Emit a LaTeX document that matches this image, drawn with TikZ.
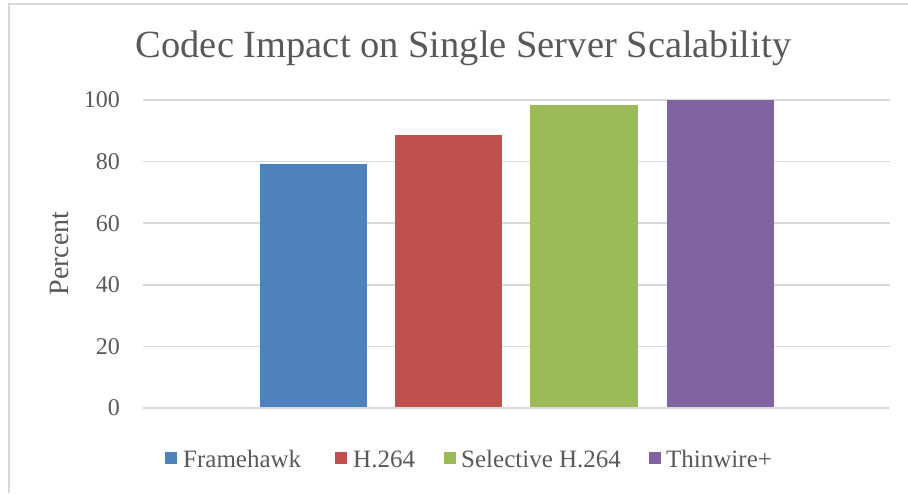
\documentclass[tikz,border=0pt]{standalone}
\usepackage{fontspec}
\setmainfont{Liberation Serif}
\usepackage{tikz}

\definecolor{txtgray}{HTML}{595959}
\definecolor{gridgray}{HTML}{D9D9D9}
\definecolor{fhblue}{HTML}{4F81BD}
\definecolor{hred}{HTML}{C0504D}
\definecolor{selgreen}{HTML}{9BBB59}
\definecolor{twpurple}{HTML}{8064A2}

\begin{document}
\begin{tikzpicture}[x=1pt,y=-1pt,
        gridline/.style={gridgray,line width=1.5pt},
        ticklabel/.style={anchor=east,txtgray,font=\fontsize{24}{24}\selectfont},
        legendlabel/.style={anchor=base west,txtgray,font=\fontsize{25}{25}\selectfont}]
        \tikzstyle{every node}+=[inner sep=0pt]
        \useasboundingbox (0,0) rectangle (908,493);
        % frame
        \draw [gridgray,line width=2pt] (8.5,493) -- (8.5,3.5) -- (908,3.5);
        % title
        \node [anchor=base,txtgray,font=\fontsize{38.5}{40}\selectfont] (title) at (463.5,57) {Codec Impact on Single Server Scalability};
        % grid
        \draw [gridline] (143,100) -- (890,100);
        \draw [gridline] (143,161.6) -- (890,161.6);
        \draw [gridline] (143,223.2) -- (890,223.2);
        \draw [gridline] (143,284.8) -- (890,284.8);
        \draw [gridline] (143,346.4) -- (890,346.4);
        \draw [gridgray,line width=2pt] (143,408) -- (890,408);
        % tick labels
        \node [ticklabel] (t100) at (120,100) {100};
        \node [ticklabel] (t80) at (120,161.6) {80};
        \node [ticklabel] (t60) at (120,223.2) {60};
        \node [ticklabel] (t40) at (120,284.8) {40};
        \node [ticklabel] (t20) at (120,346.4) {20};
        \node [ticklabel] (t0) at (120,408) {0};
        \node [rotate=90,txtgray,font=\fontsize{28}{28}\selectfont] (ylabel) at (59,253.5) {Percent};
        % bars
        \fill [fhblue] (260,164.3) rectangle (367,407);
        \fill [hred] (395,135) rectangle (502,407);
        \fill [selgreen] (530,105) rectangle (638,407);
        \fill [twpurple] (667,100) rectangle (774,407);
        % legend
        \fill [fhblue] (164.5,452) rectangle (176.6,464);
        \node [legendlabel] (lfh) at (183,467) {Framehawk};
        \fill [hred] (334.6,452) rectangle (346.7,464);
        \node [legendlabel] (lh) at (353,467) {H.264};
        \fill [selgreen] (443.6,452) rectangle (455.6,464);
        \node [legendlabel] (lsel) at (461,467) {Selective H.264};
        \fill [twpurple] (649,452) rectangle (661,464);
        \node [legendlabel] (ltw) at (666,467) {Thinwire+};
\end{tikzpicture}
\end{document}
